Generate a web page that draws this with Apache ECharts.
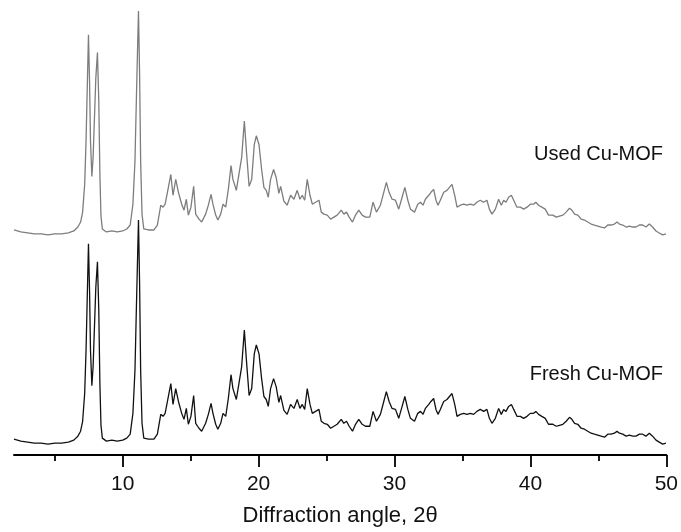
<!DOCTYPE html>
<html>
<head>
<meta charset="utf-8">
<script src="https://cdn.jsdelivr.net/npm/echarts@6/dist/echarts.min.js"></script>
<style>
html,body{margin:0;padding:0;background:#fff;}
#chart{width:681px;height:532px;}
</style>
</head>
<body>
<div id="chart"></div>
<script>
// 2θ positions (degrees)
const twoTheta = [
2.0,2.5,3.0,3.5,4.0,4.5,5.0,5.5,6.0,6.4,6.7,6.9,7.05,7.2,7.3,7.4,7.48,7.56,7.63,7.73,
7.82,7.92,8.02,8.14,8.24,8.32,8.4,8.5,8.8,9.2,9.6,10.0,10.3,10.55,10.75,10.9,11.0,11.1,11.16,11.24,
11.32,11.42,11.55,11.9,12.3,12.55,12.8,12.97,13.12,13.29,13.54,13.7,13.9,14.1,14.2,14.34,14.51,14.68,14.83,15.02,
15.22,15.37,15.61,15.81,16.1,16.3,16.5,16.64,16.84,17.0,17.21,17.38,17.58,17.77,17.97,18.11,18.36,18.55,18.75,18.95,
19.1,19.3,19.49,19.68,19.83,20.03,20.22,20.39,20.56,20.71,20.88,21.1,21.29,21.49,21.62,21.86,22.1,22.35,22.6,22.84,
23.04,23.21,23.39,23.58,23.78,23.95,24.19,24.44,24.61,24.81,25.05,25.3,25.54,25.78,26.08,26.27,26.47,26.66,26.91,27.13,
27.37,27.62,27.86,28.18,28.42,28.67,28.96,29.21,29.4,29.6,29.82,30.07,30.31,30.56,30.76,30.98,31.17,31.47,31.71,31.91,
32.1,32.27,32.52,32.68,32.88,33.05,33.2,33.37,33.62,33.86,34.04,34.23,34.43,34.6,34.84,35.09,35.33,35.58,35.82,36.06,
36.31,36.56,36.8,36.98,37.17,37.42,37.66,37.86,38.03,38.2,38.4,38.6,38.77,39.01,39.26,39.5,39.75,39.99,40.23,40.4,
40.6,40.84,41.09,41.33,41.65,41.9,42.14,42.39,42.63,42.88,43.05,43.25,43.49,43.73,43.98,44.22,44.47,44.71,44.96,45.2,
45.45,45.69,45.93,46.18,46.37,46.55,46.79,47.04,47.28,47.53,47.77,48.02,48.26,48.5,48.75,48.99,49.24,49.48,49.73,49.97
];

// Fresh Cu-MOF intensity (a.u.)
const freshIntensity = [
16,14,13,12,12,11,12,12,13,15,19,24,34,62,105,165,213,165,105,70,
89,129,169,195,145,72,30,17,14,15,14,15,17,21,42,85,145,203,237,175,
85,32,17,16,16,21,41,39,42,54,72,51,67,54,56,42,36,47,31,39,
60,32,27,24,32,41,52,42,31,26,32,42,39,57,81,67,56,72,89,126,
96,60,67,102,111,102,77,59,56,49,67,77,69,53,60,45,41,51,47,56,
47,51,46,67,51,42,44,46,34,32,31,27,29,31,36,32,34,29,24,31,
36,31,29,29,44,34,41,54,64,54,47,46,37,49,59,46,37,34,42,44,
41,47,51,54,57,46,41,46,54,56,59,62,51,39,41,42,41,42,41,44,
46,44,46,37,32,37,47,41,46,44,49,51,46,39,39,37,39,42,42,44,
41,39,37,31,31,29,30,31,34,38,36,32,31,27,26,24,22,21,20,19,
18,21,21,22,24,22,21,19,20,19,19,21,21,19,22,19,15,13,11,12
];

// Used Cu-MOF intensity (a.u.) – the reference trace has the same profile
const usedIntensity = [
16,14,13,12,12,11,12,12,13,15,19,24,34,62,105,165,213,165,105,70,
89,129,169,195,145,72,30,17,14,15,14,15,17,21,42,85,145,203,237,175,
85,32,17,16,16,21,41,39,42,54,72,51,67,54,56,42,36,47,31,39,
60,32,27,24,32,41,52,42,31,26,32,42,39,57,81,67,56,72,89,126,
96,60,67,102,111,102,77,59,56,49,67,77,69,53,60,45,41,51,47,56,
47,51,46,67,51,42,44,46,34,32,31,27,29,31,36,32,34,29,24,31,
36,31,29,29,44,34,41,54,64,54,47,46,37,49,59,46,37,34,42,44,
41,47,51,54,57,46,41,46,54,56,59,62,51,39,41,42,41,42,41,44,
46,44,46,37,32,37,47,41,46,44,49,51,46,39,39,37,39,42,42,44,
41,39,37,31,31,29,30,31,34,38,36,32,31,27,26,24,22,21,20,19,
18,21,21,22,24,22,21,19,20,19,19,21,21,19,22,19,15,13,11,12
];

const majorTicks = [10, 20, 30, 40, 50];
const minorTicks = [5, 15, 25, 35, 45];
const seriesNames = ['Fresh Cu-MOF', 'Used Cu-MOF'];
const axisTitle = 'Diffraction angle, 2\u03B8';

const font = '"Liberation Sans", Arial, Helvetica, sans-serif';
const chart = echarts.init(document.getElementById('chart'), null, {renderer: 'canvas'});

const pair = (xs, ys) => xs.map((x, i) => [x, ys[i]]);

chart.setOption({
  animation: false,
  backgroundColor: '#fff',
  grid: {left: 14, right: 13, top: 0, bottom: 73, containLabel: false},
  xAxis: [{
    type: 'value', min: 2, max: 50,
    position: 'bottom',
    axisLine: {show: true, onZero: false, lineStyle: {color: '#000', width: 2}},
    axisTick: {show: true, customValues: majorTicks, length: 12, inside: false, lineStyle: {color: '#000', width: 1.8}},
    axisLabel: {show: true, customValues: majorTicks, margin: 19, color: '#111', fontSize: 21, fontFamily: font},
    splitLine: {show: false},
    name: axisTitle, nameLocation: 'middle', nameGap: 50,
    nameTextStyle: {color: '#111', fontSize: 22, fontFamily: font}
  }, {
    type: 'value', min: 2, max: 50,
    position: 'bottom',
    axisLine: {show: false, onZero: false},
    axisTick: {show: true, customValues: minorTicks, length: 6, inside: false, lineStyle: {color: '#000', width: 1.8}},
    axisLabel: {show: false},
    splitLine: {show: false}
  }],
  yAxis: [
    {type: 'value', min: 0, max: 459, show: false},
    {type: 'value', min: -211, max: 248, show: false}
  ],
  series: [
    {
      name: seriesNames[0], type: 'line', xAxisIndex: 0, yAxisIndex: 0,
      data: pair(twoTheta, freshIntensity), showSymbol: false, symbol: 'none',
      lineStyle: {color: '#111', width: 1.3}, clip: true
    },
    {
      name: seriesNames[1], type: 'line', xAxisIndex: 0, yAxisIndex: 1,
      data: pair(twoTheta, usedIntensity), showSymbol: false, symbol: 'none',
      lineStyle: {color: '#7d7d7d', width: 1.3}, clip: true
    }
  ],
  graphic: [
    {type: 'text', right: 18, top: 144, style: {text: seriesNames[1], font: '20px ' + font, fill: '#111'}},
    {type: 'text', right: 18, top: 364, style: {text: seriesNames[0], font: '20px ' + font, fill: '#111'}}
  ]
});
</script>
</body>
</html>
